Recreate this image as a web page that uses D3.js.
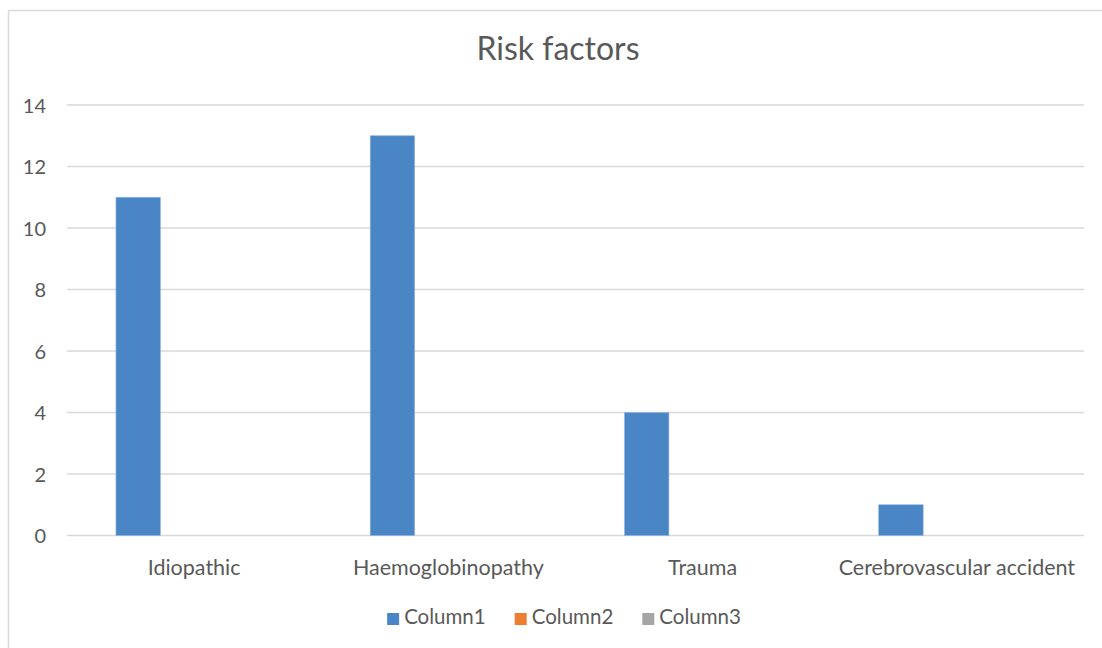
<!DOCTYPE html>
<html>
<head>
<meta charset="utf-8">
<script src="https://cdn.jsdelivr.net/npm/d3@7"></script>
<style>
  html, body { margin: 0; padding: 0; background: #ffffff; }
  svg { display: block; }
  text { font-family: Lato, "Open Sans", sans-serif; fill: #595959; }
</style>
</head>
<body>
<svg id="chart" width="1102" height="648"></svg>
<script>
// Chart content
const title = "Risk factors";
const categories = ["Idiopathic", "Haemoglobinopathy", "Trauma", "Cerebrovascular accident"];
const seriesNames = ["Column1", "Column2", "Column3"];
const column1 = [11, 13, 4, 1];
const column2 = [null, null, null, null];
const column3 = [null, null, null, null];
const yTicks = [0, 2, 4, 6, 8, 10, 12, 14];
const seriesColors = ["#4a86c6", "#ed7d31", "#a5a5a5"];

const W = 1102, H = 648;
const plot = { left: 67, right: 1084, top: 105, bottom: 535.5 };

const svg = d3.select("#chart");

// Outer chart frame
svg.append("rect")
  .attr("x", 8.5).attr("y", 10.5)
  .attr("width", W + 20).attr("height", H + 20)
  .attr("fill", "#ffffff")
  .attr("stroke", "#d9d9d9").attr("stroke-width", 1.5);

// Scales
const x = d3.scaleBand().domain(categories).range([plot.left, plot.right]).padding(0);
const xInner = d3.scaleBand().domain(seriesNames)
  .range([0, x.bandwidth()])
  .paddingInner(0).paddingOuter(1.36).align(0.405);
const y = d3.scaleLinear().domain([0, 14]).range([plot.bottom, plot.top]);

// Gridlines
svg.append("g")
  .selectAll("line")
  .data(yTicks)
  .join("line")
  .attr("x1", plot.left).attr("x2", plot.right)
  .attr("y1", d => y(d)).attr("y2", d => y(d))
  .attr("stroke", "#d9d9d9").attr("stroke-width", 1.4);

// Y axis labels
const yAxis = d3.axisLeft(y).tickValues(yTicks).tickSize(0).tickPadding(0);
const gy = svg.append("g").attr("transform", `translate(46,0)`).call(yAxis);
gy.select(".domain").remove();
gy.selectAll("text")
  .attr("font-family", "Lato, sans-serif")
  .attr("font-size", 20)
  .attr("fill", "#595959")
  .attr("dy", "0.36em");

// Bars
const seriesData = [column1, column2, column3];
const barData = [];
seriesNames.forEach((s, si) => {
  categories.forEach((c, ci) => {
    const v = seriesData[si][ci];
    if (v != null) barData.push({ series: s, category: c, value: v, color: seriesColors[si] });
  });
});

svg.append("g")
  .selectAll("rect")
  .data(barData)
  .join("rect")
  .attr("x", d => x(d.category) + xInner(d.series))
  .attr("width", xInner.bandwidth())
  .attr("y", d => y(d.value))
  .attr("height", d => y(0) - y(d.value))
  .attr("fill", d => d.color)
  .attr("stroke", "#8fb4dd").attr("stroke-width", 0.6);

// X axis labels
const xAxis = d3.axisBottom(x).tickSize(0).tickPadding(0);
const gx = svg.append("g").attr("transform", `translate(0,575)`).call(xAxis);
gx.select(".domain").remove();
gx.selectAll("text")
  .attr("font-family", "Lato, sans-serif")
  .attr("font-size", 21.5)
  .attr("fill", "#595959")
  .attr("dy", 0)
  .attr("y", 0);

// Title
svg.append("text")
  .attr("x", 558).attr("y", 60)
  .attr("text-anchor", "middle")
  .attr("font-size", 32)
  .text(title);

// Legend
const legend = svg.append("g");
const items = legend.selectAll("g")
  .data(seriesNames)
  .join("g");
items.append("rect")
  .attr("width", 12).attr("height", 12)
  .attr("y", -11)
  .attr("fill", (d, i) => seriesColors[i]);
items.append("text")
  .attr("x", 17).attr("y", 0)
  .attr("font-size", 20.5)
  .text(d => d);
let cursor = 0;
items.each(function() {
  const g = d3.select(this);
  g.attr("transform", `translate(${cursor},0)`);
  const w = 17 + g.select("text").node().getComputedTextLength();
  cursor += w + 29;
});
const legendWidth = cursor - 29;
legend.attr("transform", `translate(${564 - legendWidth / 2},624)`);
</script>
</body>
</html>
